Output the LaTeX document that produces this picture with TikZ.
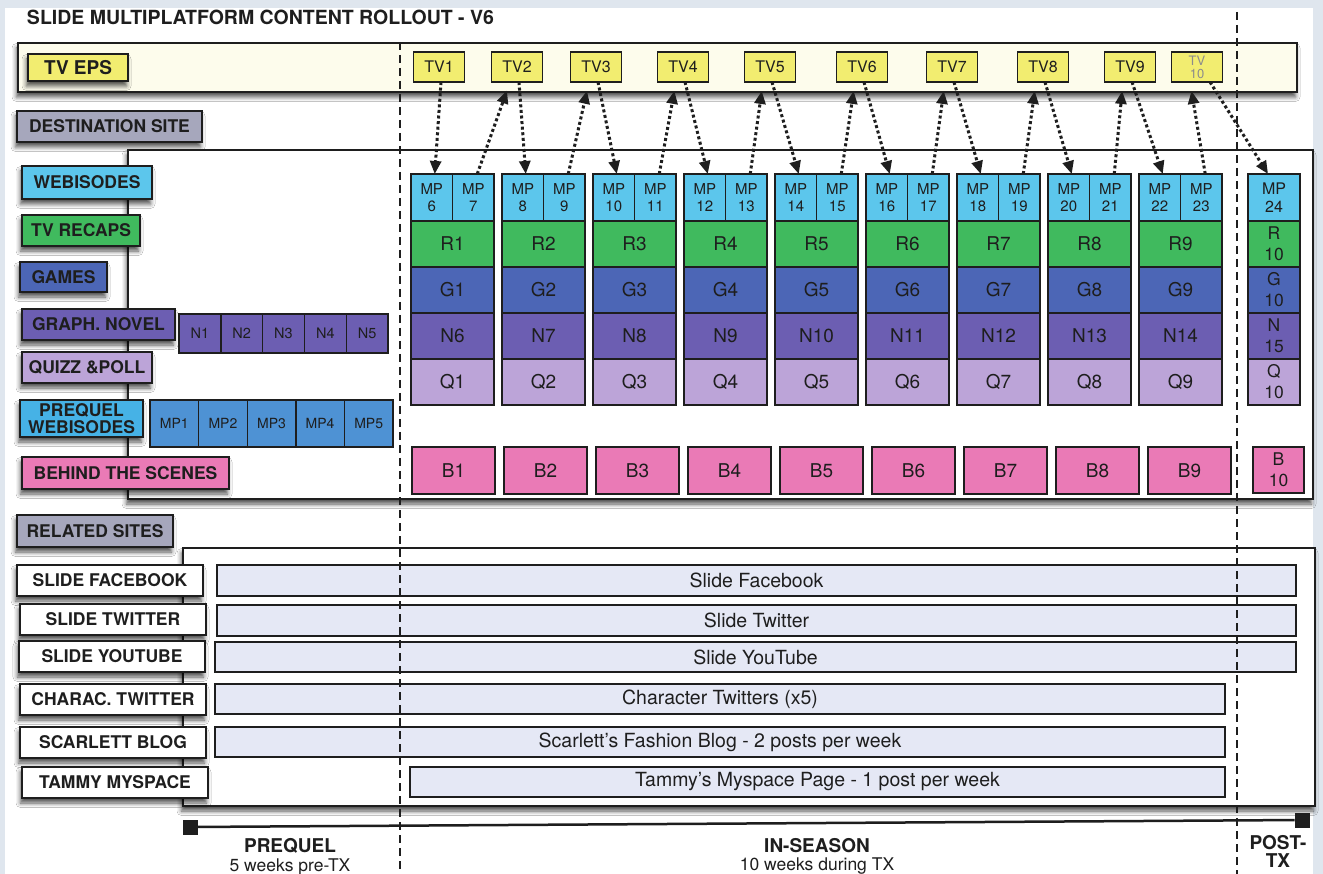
\documentclass[tikz,border=0pt]{standalone}
\usepackage{fontspec}
\setmainfont{TeX Gyre Heros}
\usetikzlibrary{arrows.meta,positioning,shadows.blur}

\definecolor{pagebg}{RGB}{223,230,238}
\definecolor{tvyellow}{RGB}{242,237,112}
\definecolor{tvband}{RGB}{253,252,236}
\definecolor{webcyan}{RGB}{92,198,236}
\definecolor{recapgreen}{RGB}{64,186,94}
\definecolor{gameblue}{RGB}{76,102,182}
\definecolor{novelpurple}{RGB}{108,94,178}
\definecolor{quizlilac}{RGB}{188,164,216}
\definecolor{scenepink}{RGB}{234,122,182}
\definecolor{sitegray}{RGB}{166,167,188}
\definecolor{prequelblue}{RGB}{78,146,212}
\definecolor{prequelcyan}{RGB}{70,178,230}
\definecolor{barlilac}{RGB}{229,232,245}
\definecolor{ink}{RGB}{30,30,30}

\begin{document}
\begin{tikzpicture}[x=1pt,y=-1pt,
  every node/.style={inner sep=0pt,outer sep=0pt,text=ink},
  box/.style={draw=ink,line width=1.6pt,anchor=north west},
  shadowed/.style={blur shadow={shadow xshift=-1.5pt,shadow yshift=-5pt,shadow blur radius=4.5pt,shadow opacity=68}},
  tag/.style={box,shadowed,font=\fontsize{17.5}{18}\selectfont\bfseries},
  cell/.style={box,line width=1.4pt,minimum width=83,minimum height=46,font=\fontsize{19}{22}\selectfont,align=center},
  smallcell/.style={box,line width=1.4pt,font=\fontsize{15}{17}\selectfont,align=center},
  tvbox/.style={draw=ink,line width=1.6pt,fill=tvyellow,minimum width=51,minimum height=30,font=\fontsize{16}{16}\selectfont},
  sitebar/.style={box,fill=barlilac,minimum height=31,font=\fontsize{19.5}{20}\selectfont},
  sitetag/.style={tag,fill=white,minimum width=186,minimum height=31},
  link/.style={draw=ink,line width=3pt,dash pattern=on 3pt off 2.6pt,-{Triangle[length=13pt,width=11pt]}},
  divider/.style={draw=ink,line width=2pt,dash pattern=on 8pt off 5pt},
  phase/.style={font=\fontsize{19}{20}\selectfont\bfseries,anchor=base},
  phasenote/.style={font=\fontsize{17.5}{18}\selectfont}]

  \useasboundingbox (0,0) rectangle (1323,874);
  \fill[pagebg] (0,0) rectangle (1323,874);
  \fill[white] (5,8) rectangle (1313,874);

  \node[anchor=base west,font=\fontsize{19.5}{20}\selectfont\bfseries] (title) at (27,25) {SLIDE MULTIPLATFORM CONTENT ROLLOUT - V6};

  \node[box,shadowed,line width=2pt,fill=tvband,minimum width=1279,minimum height=49] (tvband) at (18,43) {};
  \node[tag,fill=tvyellow,minimum width=100,minimum height=27,font=\fontsize{19}{19}\selectfont\bfseries] (tveps) at (28,54) {TV EPS};
  \foreach \k/\x in {1/439,2/517,3/596,4/683,5/770,6/862,7/952,8/1043,9/1130}
    \node[tvbox] (tv\k) at (\x,67) {TV\k};
  \node[tvbox,align=center,text=black!45,font=\fontsize{13}{13}\selectfont] (tv10) at (1197,67) {TV\\10};

  \node[tag,fill=sitegray,minimum width=185,minimum height=31] (destination) at (17,111) {DESTINATION SITE};
  \node[box,shadowed,line width=2pt,fill=white,minimum width=1185,minimum height=349] (destframe) at (128,150) {};

  \node[tag,fill=webcyan,minimum width=130,minimum height=33] (webisodes) at (22,166) {WEBISODES};
  \node[tag,fill=recapgreen,minimum width=118,minimum height=31] (recaps) at (22,215) {TV RECAPS};
  \node[tag,fill=gameblue,minimum width=87,minimum height=30] (games) at (20,262) {GAMES};
  \node[tag,fill=novelpurple,minimum width=153,minimum height=31] (novel) at (22,309) {GRAPH. NOVEL};
  \node[tag,fill=quizlilac,minimum width=130,minimum height=31] (quiz) at (22,352) {QUIZZ \&POLL};
  \node[tag,fill=prequelcyan,minimum width=123,minimum height=37,align=center,font=\fontsize{17.5}{17}\selectfont\bfseries] (prequelweb) at (20,400) {PREQUEL\\WEBISODES};
  \node[tag,fill=scenepink,minimum width=207,minimum height=32] (scenes) at (22,457) {BEHIND THE SCENES};

  \foreach \j in {1,...,5}{
    \node[smallcell,fill=novelpurple,minimum width=41.8,minimum height=39,font=\fontsize{14.5}{16}\selectfont] (n\j) at ({179+41.8*(\j-1)},314) {N\j};
    \node[smallcell,fill=prequelblue,minimum width=48.6,minimum height=47,font=\fontsize{14}{16}\selectfont] (mp\j) at ({150+48.6*(\j-1)},400) {MP\j};
  }

  \foreach \i in {1,...,9}{
    \pgfmathsetmacro{\cx}{411+91*(\i-1)}
    \pgfmathsetmacro{\bx}{412+92*(\i-1)}
    \pgfmathtruncatemacro{\ma}{2*\i+4}
    \pgfmathtruncatemacro{\mb}{2*\i+5}
    \pgfmathtruncatemacro{\nn}{\i+5}
    \node[smallcell,fill=webcyan,minimum width=41.5,minimum height=47] (mp\ma) at (\cx,174) {MP\\\ma};
    \node[smallcell,fill=webcyan,minimum width=41.5,minimum height=47] (mp\mb) at (\cx+41.5,174) {MP\\\mb};
    \node[cell,fill=recapgreen] (r\i) at (\cx,221) {R\i};
    \node[cell,fill=gameblue] (g\i) at (\cx,267) {G\i};
    \node[cell,fill=novelpurple] (n\nn) at (\cx,313) {N\nn};
    \node[cell,fill=quizlilac] (q\i) at (\cx,359) {Q\i};
    \node[cell,fill=scenepink,minimum height=47] (b\i) at (\bx,447) {B\i};
  }
  \node[smallcell,fill=webcyan,minimum width=52,minimum height=47,font=\fontsize{16}{18}\selectfont] (mp24) at (1248,174) {MP\\24};
  \node[cell,fill=recapgreen,minimum width=52,font=\fontsize{17.5}{21}\selectfont] (r10) at (1248,221) {R\\10};
  \node[cell,fill=gameblue,minimum width=52,font=\fontsize{17.5}{21}\selectfont] (g10) at (1248,267) {G\\10};
  \node[cell,fill=novelpurple,minimum width=52,font=\fontsize{17.5}{21}\selectfont] (n15) at (1248,313) {N\\15};
  \node[cell,fill=quizlilac,minimum width=52,font=\fontsize{17.5}{21}\selectfont] (q10) at (1248,359) {Q\\10};
  \node[cell,fill=scenepink,minimum width=51,font=\fontsize{17.5}{21}\selectfont] (b10) at (1253,447) {B\\10};

  \foreach \k in {1,...,9}{
    \pgfmathtruncatemacro{\ma}{2*\k+4}
    \pgfmathtruncatemacro{\mb}{2*\k+5}
    \pgfmathtruncatemacro{\nx}{\k+1}
    \draw[link] ([xshift=2pt]tv\k.south) -- ([xshift=3pt]mp\ma.north);
    \draw[link,shorten >=9pt] ([xshift=4pt]mp\mb.north) -- ([xshift=-7pt]tv\nx.south);
  }
  \draw[link] ([xshift=13pt]tv10.south) -- ([xshift=-6pt]mp24.north);

  \node[tag,fill=sitegray,minimum width=156,minimum height=32] (related) at (17,515) {RELATED SITES};
  \node[box,shadowed,line width=2pt,fill=white,minimum width=1132,minimum height=258] (relframe) at (183,548) {};

  \node[sitetag] (facebook) at (17,565) {SLIDE FACEBOOK};
  \node[sitetag] (twitter) at (20,604) {SLIDE TWITTER};
  \node[sitetag] (youtube) at (19,641) {SLIDE YOUTUBE};
  \node[sitetag] (chartwitter) at (20,684) {CHARAC. TWITTER};
  \node[sitetag] (scarlett) at (20,727) {SCARLETT BLOG};
  \node[sitetag] (tammy) at (22,767) {TAMMY MYSPACE};

  \node[sitebar,minimum width=1079] (facebookbar) at (217,565) {Slide Facebook};
  \node[sitebar,minimum width=1079] (twitterbar) at (217,605) {Slide Twitter};
  \node[sitebar,minimum width=1081,minimum height=30] (youtubebar) at (215,642) {Slide YouTube};
  \node[sitebar,minimum width=1010,minimum height=30] (chartwitterbar) at (215,684) {Character Twitters (x5)};
  \node[sitebar,minimum width=1010,minimum height=30] (scarlettbar) at (215,727) {Scarlett's Fashion Blog - 2 posts per week};
  \node[sitebar,minimum width=815,minimum height=30] (tammybar) at (410,767) {Tammy's Myspace Page - 1 post per week};

  \coordinate (splitA top) at (400,42);
  \coordinate (splitA bottom) at (400,874);
  \coordinate (splitB top) at (1237,12);
  \coordinate (splitB bottom) at (1237,874);
  \draw[divider] (splitA top) -- (splitA bottom);
  \draw[divider] (splitB top) -- (splitB bottom);

  \node[fill=ink,minimum size=15] (tlstart) at (190,827) {};
  \node[fill=ink,minimum size=15] (tlend) at (1302,820) {};
  \draw[ink,line width=2.5pt] (tlstart) -- (tlend);

  \node[phase] (prequel) at (290,852) {PREQUEL};
  \node[phasenote,below=6pt of prequel] (prequelnote) {5 weeks pre-TX};
  \node[phase] (inseason) at (817,852) {IN-SEASON};
  \node[phasenote,below=6pt of inseason] (inseasonnote) {10 weeks during TX};
  \node[phase] (post) at (1278,849) {POST-};
  \node[phase,below=4pt of post] (posttx) {TX};
\end{tikzpicture}
\end{document}
